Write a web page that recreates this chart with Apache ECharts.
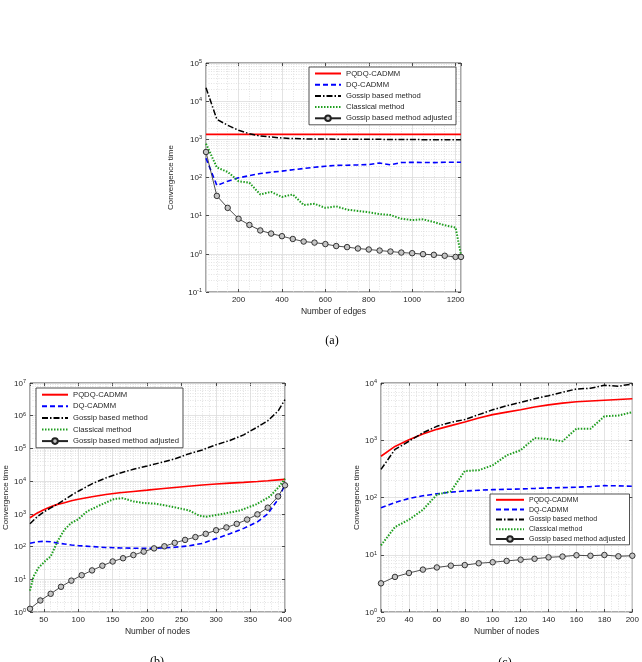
<!DOCTYPE html>
<html>
<head>
<meta charset="utf-8">
<script src="https://cdn.jsdelivr.net/npm/echarts@6/dist/echarts.min.js"></script>
<style>
  html, body { margin: 0; padding: 0; background: #fff; }
  #graph { width: 642px; height: 662px; }
</style>
</head>
<body>
<div id="graph"></div>
<script>
var names = ['PQDQ-CADMM', 'DQ-CADMM', 'Gossip based method', 'Classical method', 'Gossip based method adjusted'];

// (a) convergence time vs number of edges
var edgesA = [50, 100, 150, 200, 250, 300, 350, 400, 450, 500, 550, 600, 650, 700, 750, 800, 850, 900, 950, 1000, 1050, 1100, 1150, 1200, 1225];
var pqdqA = [1350, 1350, 1350, 1350, 1350, 1350, 1350, 1350, 1350, 1350, 1350, 1350, 1350, 1350, 1350, 1350, 1350, 1350, 1350, 1350, 1350, 1350, 1350, 1350, 1350];
var dqA = [320, 62, 80, 98, 112, 127, 138, 147, 160, 172, 185, 198, 208, 210, 214, 219, 240, 214, 247, 250, 248, 246, 250, 252, 252];
var gossipA = [22500, 3350, 2330, 1730, 1400, 1220, 1150, 1080, 1050, 1030, 1020, 1020, 1010, 1000, 1000, 1000, 1000, 990, 990, 990, 980, 980, 980, 975, 970];
var classicalA = [770, 183, 140, 80, 73, 36, 42, 31, 36, 19, 20.5, 16, 17.5, 14.4, 13.3, 12.3, 11, 10.4, 8.3, 7.7, 8, 6.8, 5.6, 4.9, 0.93];
var adjustedA = [466, 33, 16, 8.3, 5.7, 4.1, 3.4, 2.9, 2.45, 2.1, 1.97, 1.8, 1.6, 1.5, 1.38, 1.3, 1.22, 1.15, 1.08, 1.04, 0.98, 0.94, 0.89, 0.83, 0.83];

// (b) convergence time vs number of nodes (up to 400)
var nodesB = [30, 40, 50, 60, 70, 80, 90, 100, 120, 140, 160, 180, 200, 220, 240, 260, 280, 300, 320, 340, 360, 375, 390, 400];
var pqdqB = [760, 1050, 1340, 1650, 1950, 2200, 2500, 2800, 3350, 3900, 4400, 4850, 5300, 5850, 6400, 7000, 7600, 8200, 8700, 9200, 9800, 10300, 10900, 11300];
var dqB = [126, 140, 145, 140, 128, 120, 112, 107, 100, 94, 91, 89, 89, 90, 95, 105, 125, 175, 245, 360, 570, 1000, 2800, 7800];
var gossipB = [500, 800, 1150, 1520, 2000, 2700, 3700, 4900, 8300, 12500, 17500, 23000, 29000, 37000, 48000, 68000, 90000, 130000, 175000, 260000, 450000, 700000, 1400000, 3100000];
var classicalNodesB = [30, 35, 42, 53, 60, 70, 80, 90, 100, 113, 133, 152, 165, 180, 195, 212, 236, 261, 275, 285, 310, 335, 358, 378, 392, 400];
var classicalB = [4.5, 12, 22, 38, 50, 145, 330, 530, 680, 1200, 1900, 2850, 3000, 2400, 2150, 2050, 1650, 1270, 890, 820, 1000, 1270, 1950, 3400, 7000, 12000];
var adjustedNodesB = [30, 45, 60, 75, 90, 105, 120, 135, 150, 165, 180, 195, 210, 225, 240, 255, 270, 285, 300, 315, 330, 345, 360, 375, 390, 400];
var adjustedB = [1.25, 2.25, 3.6, 5.9, 9.1, 13.3, 18.7, 26, 35, 44, 55, 70, 88, 102, 130, 160, 195, 245, 315, 385, 495, 670, 965, 1550, 3400, 7450];

// (c) convergence time vs number of nodes (up to 200)
var nodesC = [20, 30, 40, 50, 60, 70, 80, 90, 100, 110, 120, 130, 140, 150, 160, 170, 180, 190, 200];
var pqdqC = [525, 780, 1020, 1280, 1550, 1800, 2080, 2450, 2800, 3100, 3400, 3800, 4150, 4450, 4700, 4850, 5000, 5150, 5300];
var dqC = [66, 82, 96, 107, 116, 124, 130, 134, 137, 139, 141, 144, 147, 149, 151, 155, 161, 160, 157];
var gossipC = [310, 690, 960, 1350, 1750, 2050, 2300, 2800, 3400, 4000, 4580, 5300, 6000, 6900, 7850, 8100, 9100, 8800, 9600];
var classicalC = [14.6, 30.5, 41, 61, 112, 128, 290, 300, 365, 545, 670, 1090, 1050, 960, 1590, 1590, 2630, 2700, 3100];
var adjustedC = [3.17, 4.1, 4.8, 5.5, 6.0, 6.45, 6.6, 7.1, 7.4, 7.8, 8.2, 8.5, 9.0, 9.3, 9.8, 9.6, 9.9, 9.4, 9.6];

var txt = '#262626';
var styles = [
  { color: '#ff0000', width: 1.6, type: 'solid' },
  { color: '#0000ff', width: 1.6, type: [5, 3] },
  { color: '#000000', width: 1.5, type: [6, 2, 1.5, 2] },
  { color: '#1e9e1e', width: 2, type: [1.5, 1.5] },
  { color: '#222222', width: 0.8, type: 'solid' }
];

function zip(xs, ys) {
  return xs.map(function (x, i) { return [x, ys[i]]; });
}

// dotted minor grid in MATLAB style (2..9 per decade, minor x steps)
function minorGrid(e0, e1, xs) {
  var out = [];
  for (var e = e0; e < e1; e++) {
    for (var k = 2; k < 10; k++) out.push({ yAxis: k * Math.pow(10, e) });
  }
  xs.forEach(function (v) { out.push({ xAxis: v }); });
  return out;
}
function steps(a, b, s, skip) {
  var out = [];
  for (var v = a; v <= b; v += s) if (v % skip !== 0) out.push(v);
  return out;
}

function line(k, gi, data, extra) {
  var st = styles[k];
  var circ = k === 4;
  var s = {
    name: names[k],
    type: 'line',
    xAxisIndex: gi,
    yAxisIndex: gi,
    data: data,
    showSymbol: circ,
    symbol: 'circle',
    symbolSize: 5.5,
    z: 2 + k,
    lineStyle: { color: st.color, width: st.width, type: st.type },
    itemStyle: circ ? { color: '#c4c4c4', borderColor: '#222', borderWidth: 0.9 } : { color: st.color },
    emphasis: { disabled: true },
    silent: true
  };
  if (extra) s.markLine = extra;
  return s;
}
function mark(data) {
  return {
    silent: true,
    symbol: ['none', 'none'],
    z: 1,
    label: { show: false },
    emphasis: { disabled: true },
    animation: false,
    lineStyle: { color: '#d9d9d9', width: 0.7, type: [1, 1.5] },
    data: data
  };
}

var grids = [
  { left: 206, top: 63, width: 255, height: 229 },
  { left: 30, top: 383, width: 255, height: 229 },
  { left: 381, top: 383, width: 254, height: 229 }
];
grids.forEach(function (g) {
  g.show = true; g.borderColor = txt; g.borderWidth = 0.8; g.backgroundColor = '#fff';
});

var xCfg = [
  { min: 50, max: 1225, splitNumber: 6, name: 'Number of edges' },
  { min: 30, max: 400, splitNumber: 7, name: 'Number of nodes' },
  { min: 20, max: 200, interval: 20, name: 'Number of nodes' }
];
var yCfg = [
  { min: 0.1, max: 100000, splitNumber: 6, gap: 31 },
  { min: 1, max: 10000000, splitNumber: 7, gap: 20 },
  { min: 1, max: 10000, splitNumber: 4, gap: 20 }
];

var xAxes = [], yAxes = [];
[0, 1].forEach(function (side) {
  xCfg.forEach(function (c, i) {
    xAxes.push({
      type: 'value', gridIndex: i, position: side ? 'top' : 'bottom',
      min: c.min, max: c.max, splitNumber: c.splitNumber, interval: c.interval,
      name: side ? '' : c.name, nameLocation: 'middle', nameGap: 15,
      nameTextStyle: { color: txt, fontSize: 8.5, fontFamily: 'Liberation Sans' },
      axisLine: { show: false },
      axisTick: { show: true, inside: true, length: 3, lineStyle: { color: txt, width: 0.8 } },
      axisLabel: { show: !side, color: txt, fontSize: 8, margin: 4, fontFamily: 'Liberation Sans',
        formatter: function (v) { return String(v); },
        showMinLabel: i === 2, showMaxLabel: i !== 0 },
      splitLine: { show: !side, lineStyle: { color: '#dcdcdc', width: 0.8 } }
    });
  });
  yCfg.forEach(function (c, i) {
    yAxes.push({
      type: 'log', logBase: 10, gridIndex: i, position: side ? 'right' : 'left',
      min: c.min, max: c.max, splitNumber: c.splitNumber,
      name: side ? '' : 'Convergence time', nameLocation: 'middle', nameGap: c.gap,
      nameTextStyle: { color: txt, fontSize: 8, fontFamily: 'Liberation Sans' },
      axisLine: { show: false },
      axisTick: { show: true, inside: true, length: 3, lineStyle: { color: txt, width: 0.8 } },
      axisLabel: {
        show: !side, margin: 4,
        formatter: function (v) { return '{b|10}{s|' + Math.round(Math.log10(v)) + '}'; },
        rich: {
          b: { fontSize: 8, color: txt, lineHeight: 9, verticalAlign: 'bottom', fontFamily: 'Liberation Sans' },
          s: { fontSize: 5.5, color: txt, lineHeight: 6, verticalAlign: 'top', fontFamily: 'Liberation Sans' }
        }
      },
      splitLine: { show: !side, lineStyle: { color: '#dcdcdc', width: 0.8 } }
    });
  });
});

function legendAt(left, top, fs, lh, iw) {
  return {
    left: left, top: top, orient: 'vertical',
    data: names.map(function (n, k) {
      return k === 4 ? { name: n } : { name: n, itemStyle: { opacity: 0 } };
    }),
    itemWidth: iw, itemHeight: 7, itemGap: 0.2,
    padding: [1, 4, 1, 5], borderColor: txt, borderWidth: 0.8, backgroundColor: '#fff',
    textStyle: { color: txt, fontSize: fs, lineHeight: lh, fontFamily: 'Liberation Sans' },
    selectedMode: false, z: 10
  };
}

var series = [
  line(0, 0, zip(edgesA, pqdqA), mark(minorGrid(-1, 5, steps(100, 1200, 50, 200)))),
  line(1, 0, zip(edgesA, dqA)),
  line(2, 0, zip(edgesA, gossipA)),
  line(3, 0, zip(edgesA, classicalA)),
  line(4, 0, zip(edgesA, adjustedA)),

  line(0, 1, zip(nodesB, pqdqB), mark(minorGrid(0, 7, steps(40, 390, 10, 50)))),
  line(1, 1, zip(nodesB, dqB)),
  line(2, 1, zip(nodesB, gossipB)),
  line(3, 1, zip(classicalNodesB, classicalB)),
  line(4, 1, zip(adjustedNodesB, adjustedB)),

  line(0, 2, zip(nodesC, pqdqC), mark(minorGrid(0, 4, steps(25, 195, 5, 20)))),
  line(1, 2, zip(nodesC, dqC)),
  line(2, 2, zip(nodesC, gossipC)),
  line(3, 2, zip(nodesC, classicalC)),
  line(4, 2, zip(nodesC, adjustedC))
];

var myChart = echarts.init(document.getElementById('graph'), null, { renderer: 'canvas' });
var option = {
  animation: false,
  backgroundColor: '#fff',
  title: [
    { text: '(a)', left: 327, top: 330, textAlign: 'center', textStyle: { fontFamily: 'Liberation Serif', fontSize: 12, fontWeight: 'normal', color: '#000' } },
    { text: '(b)', left: 152, top: 651, textAlign: 'center', textStyle: { fontFamily: 'Liberation Serif', fontSize: 12, fontWeight: 'normal', color: '#000' } },
    { text: '(c)', left: 500, top: 652, textAlign: 'center', textStyle: { fontFamily: 'Liberation Serif', fontSize: 12, fontWeight: 'normal', color: '#000' } }
  ],
  legend: [
    legendAt(309, 67, 7.7, 11, 26),
    legendAt(36, 388, 7.7, 11.4, 26),
    legendAt(490, 494, 7, 9.6, 28)
  ],
  grid: grids,
  xAxis: xAxes,
  yAxis: yAxes,
  series: series
};
myChart.setOption(option);
</script>
</body>
</html>
